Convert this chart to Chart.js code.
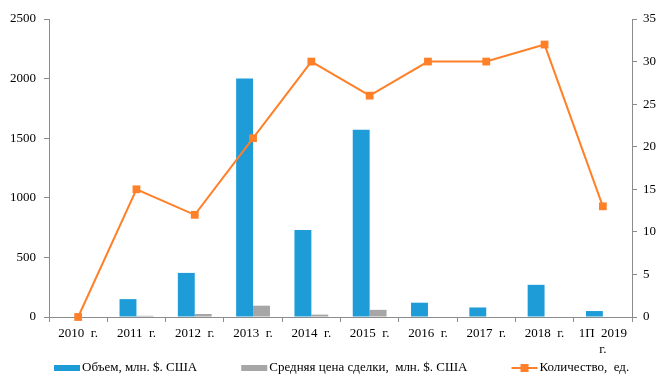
<!DOCTYPE html>
<html>
<head>
<meta charset="utf-8">
<script src="https://cdn.jsdelivr.net/npm/chart.js@4.4.1/dist/chart.umd.min.js"></script>
<style>
  html, body { margin: 0; padding: 0; background: #fff; }
  #wrap { width: 667px; height: 377px; position: relative; }
</style>
</head>
<body>
<div id="wrap"><canvas id="dealsChart"></canvas></div>
<script>
// Data
const years = ["2010  г.", "2011  г.", "2012  г.", "2013  г.", "2014  г.", "2015  г.", "2016  г.", "2017  г.", "2018  г.", ["1П  2019", "г."]];
const volume = [0, 150, 370, 2000, 730, 1570, 120, 80, 270, 50];
const avgPrice = [0, 10, 25, 95, 20, 60, 0, 0, 0, 0];
const dealCount = [0, 15, 12, 21, 30, 26, 30, 30, 32, 13];
const leftTicks = [0, 500, 1000, 1500, 2000, 2500];
const rightTicks = [0, 5, 10, 15, 20, 25, 30, 35];

const BLUE = "#1E9CD7";
const GRAY = "#A6A6A6";
const ORANGE = "#FF8028";
const AXIS = "#8C8C8C";
const FONT = "'Liberation Serif', 'Times New Roman', serif";

// bottom legend drawn by hand: bar swatches + line with marker
const bottomLegend = {
  id: "bottomLegend",
  afterDraw(chart) {
    const ctx = chart.ctx;
    const y = 368;
    let x = 54;
    ctx.save();
    ctx.font = "13px " + FONT;
    ctx.textBaseline = "middle";
    ctx.fillStyle = "#000";
    chart.data.datasets.forEach((ds) => {
      if (ds.type === "line") {
        ctx.strokeStyle = ds.borderColor;
        ctx.lineWidth = 2;
        ctx.beginPath();
        ctx.moveTo(x, y);
        ctx.lineTo(x + 26, y);
        ctx.stroke();
        ctx.fillStyle = ds.borderColor;
        ctx.fillRect(x + 9, y - 4, 8, 8);
      } else {
        ctx.fillStyle = ds.backgroundColor;
        ctx.fillRect(x, y - 3, 26, 6);
      }
      ctx.fillStyle = "#000";
      ctx.fillText(ds.label, x + 28, y);
      x += 28 + ctx.measureText(ds.label).width + 44;
    });
    ctx.restore();
  },
};

const ctx = document.getElementById("dealsChart").getContext("2d");
new Chart(ctx, {
  data: {
    labels: years,
    datasets: [
      {
        type: "bar",
        label: "Объем, млн. $. США",
        data: volume,
        backgroundColor: BLUE,
        yAxisID: "y",
        categoryPercentage: 0.58,
        barPercentage: 1,
        order: 2,
      },
      {
        type: "bar",
        label: "Средняя цена сделки,  млн. $. США",
        data: avgPrice,
        backgroundColor: GRAY,
        yAxisID: "y",
        categoryPercentage: 0.58,
        barPercentage: 1,
        order: 2,
      },
      {
        type: "line",
        label: "Количество,  ед.",
        data: dealCount,
        borderColor: ORANGE,
        backgroundColor: ORANGE,
        borderWidth: 2,
        pointStyle: "rect",
        pointRadius: 5.5,
        pointBackgroundColor: ORANGE,
        pointBorderWidth: 0,
        tension: 0,
        yAxisID: "y1",
        clip: false,
        order: 1,
      },
    ],
  },
  options: {
    responsive: true,
    maintainAspectRatio: false,
    animation: false,
    layout: { padding: { top: 19, bottom: 22, left: 0, right: 0 } },
    plugins: {
      legend: { display: false },
      tooltip: { enabled: false },
    },
    scales: {
      x: {
        grid: {
          offset: true,
          drawOnChartArea: false,
          color: AXIS,
          tickLength: 5,
        },
        border: { color: AXIS },
        ticks: {
          color: "#000",
          font: { family: FONT, size: 13 },
          maxRotation: 0,
          autoSkip: false,
          padding: 4,
        },
        afterFit(scale) {
          scale.height = 38;
        },
      },
      y: {
        position: "left",
        min: 0,
        max: 2500,
        afterBuildTicks(scale) {
          scale.ticks = leftTicks.map((v) => ({ value: v }));
        },
        grid: { drawOnChartArea: false, color: AXIS, tickLength: 5 },
        border: { color: AXIS },
        ticks: {
          color: "#000",
          font: { family: FONT, size: 13 },
          padding: 8,
          callback: (value) => String(value),
        },
        afterFit(scale) {
          scale.width = 49;
        },
      },
      y1: {
        position: "right",
        min: 0,
        max: 35,
        afterBuildTicks(scale) {
          scale.ticks = rightTicks.map((v) => ({ value: v }));
        },
        grid: { drawOnChartArea: false, color: AXIS, tickLength: 5 },
        border: { color: AXIS },
        ticks: {
          color: "#000",
          font: { family: FONT, size: 13 },
          padding: 6,
          callback: (value) => String(value),
        },
        afterFit(scale) {
          scale.width = 35;
        },
      },
    },
  },
  plugins: [bottomLegend],
});
</script>
</body>
</html>
